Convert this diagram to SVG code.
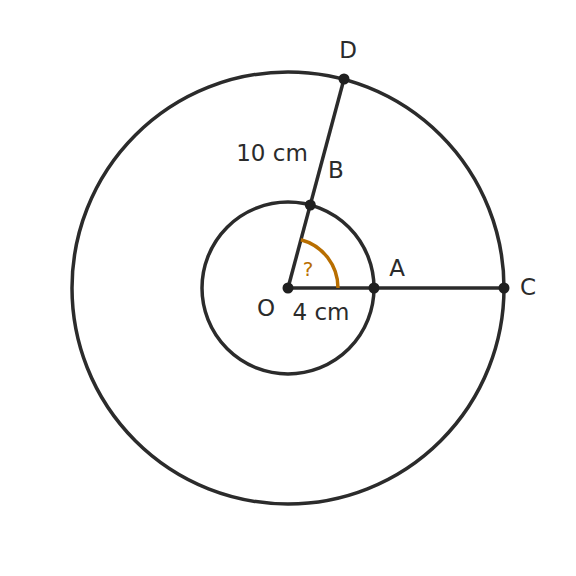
<svg xmlns="http://www.w3.org/2000/svg" width="576" height="576" viewBox="0 0 576 576">
<style>
.ln{fill:none;stroke:#2b2b2b;stroke-width:3.5}
.pt{fill:#1f1f1f}
.lb{font-family:"DejaVu Sans",sans-serif;font-size:23px;fill:#2b2b2b}
.q{font-family:"DejaVu Sans",sans-serif;font-size:20px;fill:#b86e00}
</style>
<rect width="576" height="576" fill="#ffffff"/>
<g id="circles">
<circle class="ln" cx="288" cy="288" r="216"/>
<circle class="ln" cx="288" cy="288" r="86"/>
</g>
<g id="connectors">
<line class="ln" x1="288" y1="288" x2="504" y2="288"/>
<line class="ln" x1="288" y1="288" x2="344" y2="79"/>
<path d="M338,288 A50,50 0 0 0 300.9,239.7" fill="none" stroke="#b86e00" stroke-width="3.5"/>
</g>
<g id="O"><circle class="pt" cx="288" cy="288" r="5.5"/><text class="lb" x="266" y="316" text-anchor="middle">O</text></g>
<g id="A"><circle class="pt" cx="374" cy="288" r="5.5"/><text class="lb" x="397" y="276" text-anchor="middle">A</text></g>
<g id="C"><circle class="pt" cx="504" cy="288" r="5.5"/><text class="lb" x="528" y="295" text-anchor="middle">C</text></g>
<g id="B"><circle class="pt" cx="310.3" cy="205" r="5.5"/><text class="lb" x="336" y="178" text-anchor="middle">B</text></g>
<g id="D"><circle class="pt" cx="344" cy="79" r="5.5"/><text class="lb" x="348" y="58" text-anchor="middle">D</text></g>
<text class="lb" x="272" y="161" text-anchor="middle">10 cm</text>
<text class="lb" x="321" y="320" text-anchor="middle">4 cm</text>
<text class="q" x="308" y="276" text-anchor="middle">?</text>
</svg>
